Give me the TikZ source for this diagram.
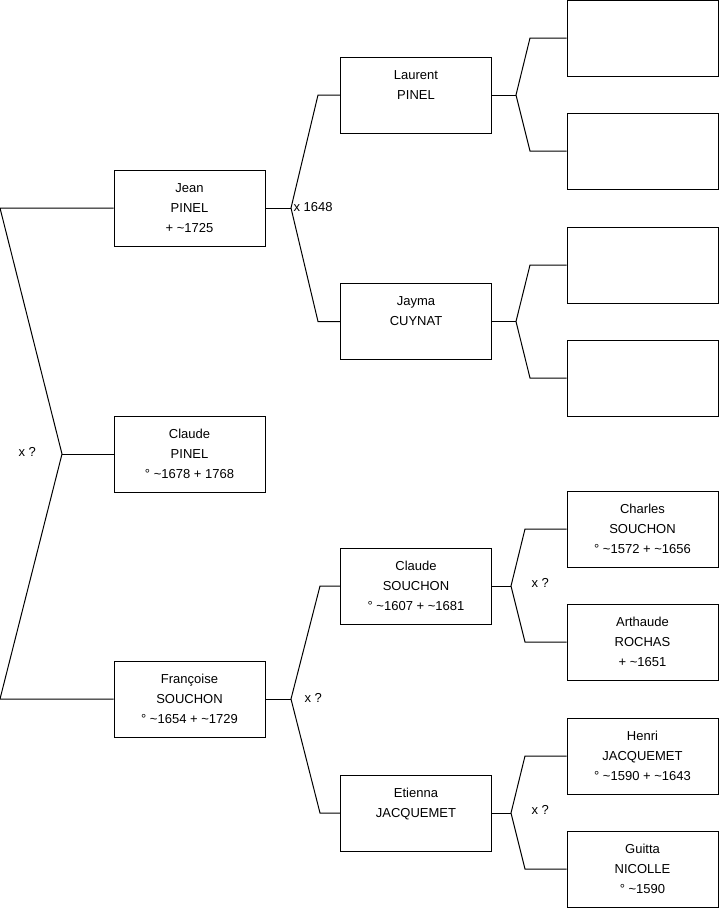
\documentclass[tikz,border=0pt]{standalone}
\usepackage{fontspec}
\setmainfont{Liberation Sans}
\newcommand\pers[3]{\strut#1\\\strut#2\\\strut#3}
\begin{document}
\begin{tikzpicture}[x=1pt, y=-1pt, line width=1pt,
                    person/.style={draw, rectangle, minimum width=151pt, minimum height=76pt,
                                   inner sep=0pt, align=center, font=\fontsize{13}{20}\selectfont},
                    mark lbl/.style={anchor=west, inner sep=0pt, font=\fontsize{13}{16}\selectfont}]
\useasboundingbox (0,0) rectangle (719,908);
% generation 1
\node[person] (jean) at (189.5,208) {\pers{Jean}{PINEL}{+ \textasciitilde1725}};
\node[person] (claudep) at (189.5,454) {\pers{Claude}{PINEL}{° \textasciitilde1678 + 1768}};
\node[person] (francoise) at (189.5,699) {\pers{Françoise}{SOUCHON}{° \textasciitilde1654 + \textasciitilde1729}};
% generation 2
\node[person] (laurent) at (416,95) {\pers{Laurent}{PINEL}{}};
\node[person] (jayma) at (416,321.5) {\pers{Jayma}{CUYNAT}{}};
\node[person] (claudes) at (416,586) {\pers{Claude}{SOUCHON}{° \textasciitilde1607 + \textasciitilde1681}};
\node[person] (etienna) at (416,813) {\pers{Etienna}{JACQUEMET}{}};
% generation 3
\node[person] (r1) at (642.5,38) {};
\node[person] (r2) at (642.5,151) {};
\node[person] (r3) at (642.5,265) {};
\node[person] (r4) at (642.5,378) {};
\node[person] (charles) at (642.5,529) {\pers{Charles}{SOUCHON}{° \textasciitilde1572 + \textasciitilde1656}};
\node[person] (arthaude) at (642.5,642) {\pers{Arthaude}{ROCHAS}{+ \textasciitilde1651}};
\node[person] (henri) at (642.5,756) {\pers{Henri}{JACQUEMET}{° \textasciitilde1590 + \textasciitilde1643}};
\node[person] (guitta) at (642.5,869) {\pers{Guitta}{NICOLLE}{° \textasciitilde1590}};
% forks
\coordinate (f0) at (62,454);
\coordinate (f1) at (291,208);
\coordinate (f2) at (291,699);
\coordinate (f3) at (516,95);
\coordinate (f4) at (516,321.5);
\coordinate (f5) at (511,586);
\coordinate (f6) at (511,813);
\coordinate (top) at (0,208);
\coordinate (bot) at (0,699);
\draw (claudep) -- (f0);
\draw (jean) -- (top) -- (f0) -- (bot) -- (francoise);
\draw (jean) -- (f1);
\draw (laurent) -- (318,95) -- (f1) -- (318,321.5) -- (jayma);
\draw (francoise) -- (f2);
\draw (claudes) -- (320,586) -- (f2) -- (320,813) -- (etienna);
\draw (laurent) -- (f3);
\draw (r1) -- (530,38) -- (f3) -- (530,151) -- (r2);
\draw (jayma) -- (f4);
\draw (r3) -- (530,265) -- (f4) -- (530,378) -- (r4);
\draw (claudes) -- (f5);
\draw (charles) -- (525,529) -- (f5) -- (525,642) -- (arthaude);
\draw (etienna) -- (f6);
\draw (henri) -- (525,756) -- (f6) -- (525,869) -- (guitta);
% marriages
\node[mark lbl] (m0) at (18,452) {x ?};
\node[mark lbl] (m1) at (293,207) {x 1648};
\node[mark lbl] (m2) at (304,698) {x ?};
\node[mark lbl] (m3) at (531,583) {x ?};
\node[mark lbl] (m4) at (531,810) {x ?};
\end{tikzpicture}
\end{document}
